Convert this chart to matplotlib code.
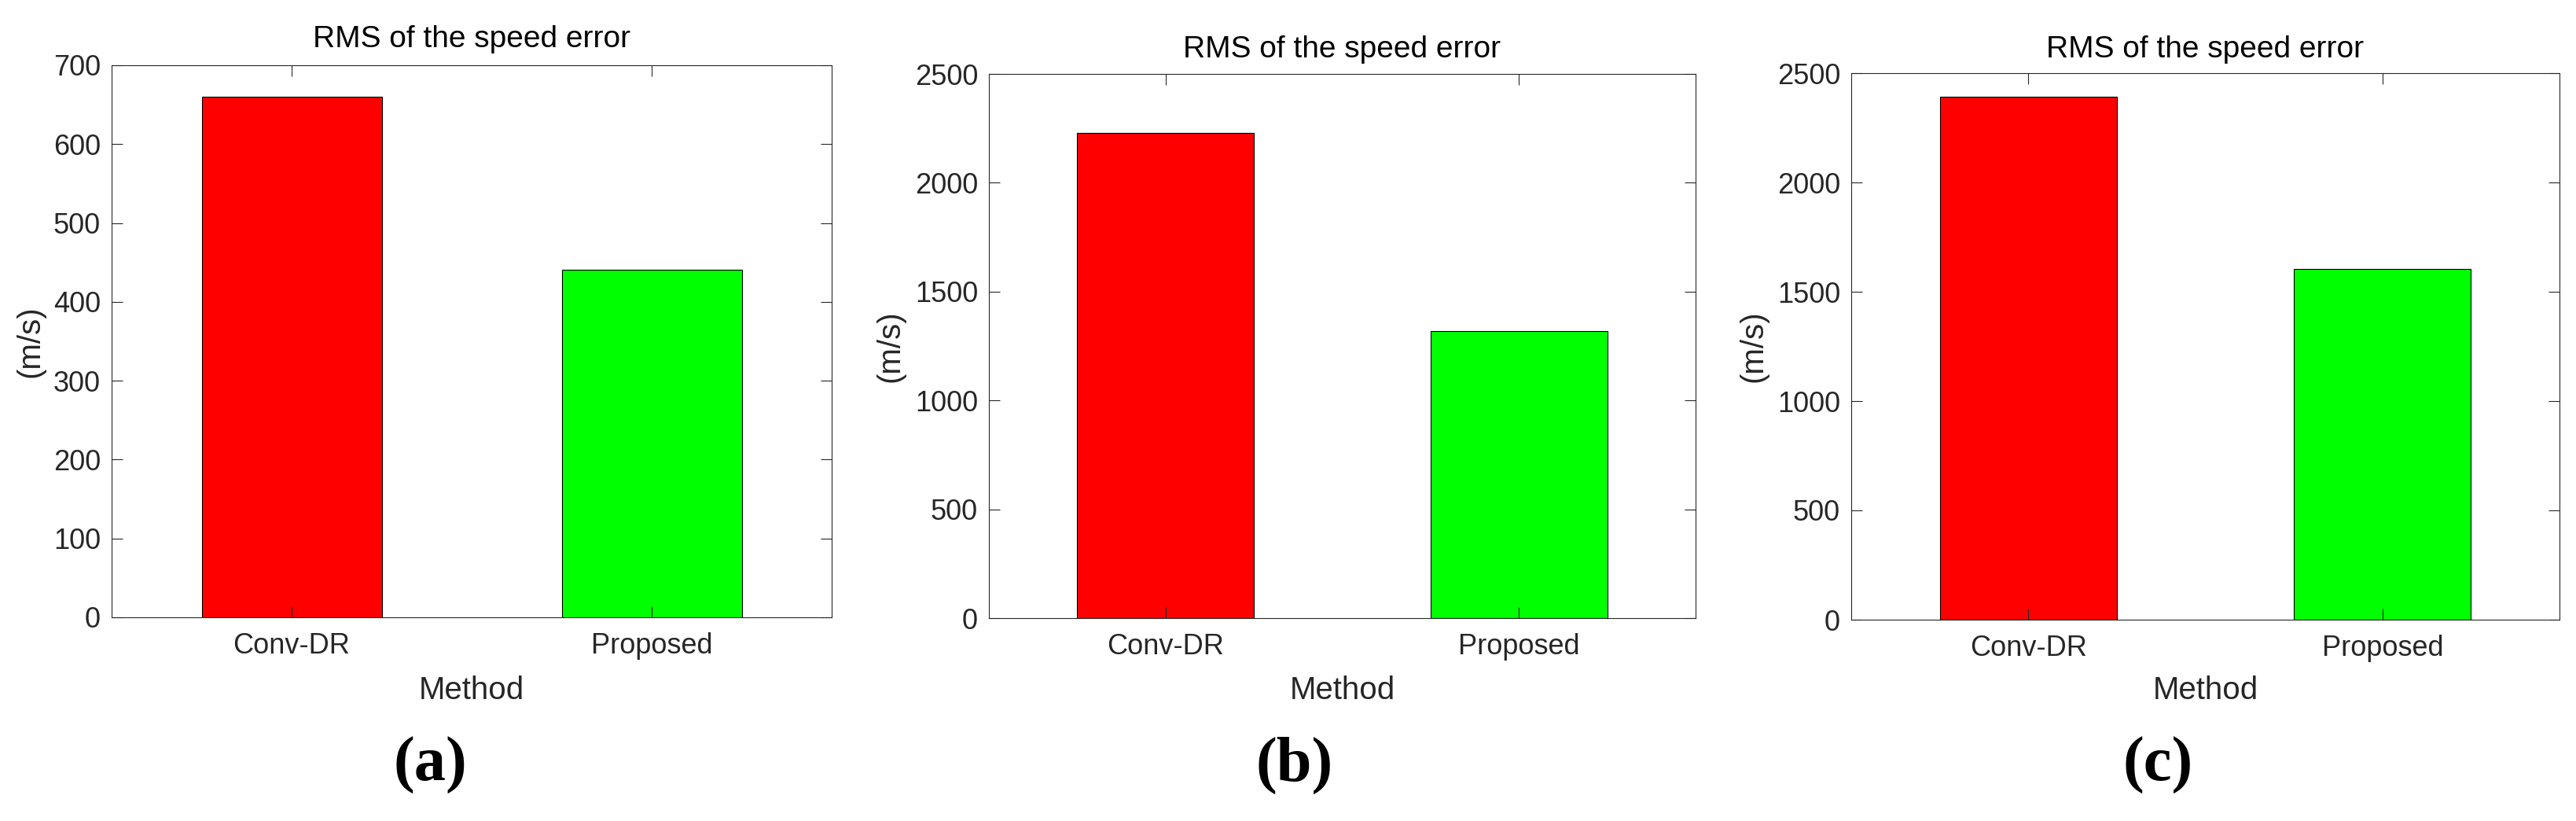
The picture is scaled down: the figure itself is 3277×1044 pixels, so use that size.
import matplotlib
matplotlib.use("Agg")
import matplotlib.pyplot as plt

plt.rcParams['font.family'] = ['Liberation Sans', 'DejaVu Sans']

methods = ["Conv-DR", "Proposed"]
values_a = [660, 441]
values_b = [2230, 1320]
values_c = [2392, 1605]
yticks_a = [0, 100, 200, 300, 400, 500, 600, 700]
yticks_bc = [0, 500, 1000, 1500, 2000, 2500]
bar_colors = ["#ff0000", "#00ff00"]
panel_labels = ["(a)", "(b)", "(c)"]
title_text = "RMS of the speed error"
xlabel_text = "Method"
ylabel_text = "(m/s)"

W, H = 3277, 1044
fig = plt.figure(figsize=(W / 100, H / 100), dpi=100)

# axes boxes in pixels: left, right, top, bottom
boxes = [(142, 1058, 83, 785), (1258, 2157, 94, 786), (2355, 3256, 93, 788)]
datas = [values_a, values_b, values_c]
ylims = [700, 2500, 2500]
ytks = [yticks_a, yticks_bc, yticks_bc]
title_y = [50, 63, 63]
ylabel_x = [39, 1132, 2230]
label_x = [547, 1647, 2745]

axcol = "#262626"
for i in range(3):
    l, r, t, b = boxes[i]
    ax = fig.add_axes([l / W, 1 - b / H, (r - l) / W, (b - t) / H])
    x = [1, 2]
    ax.bar(x, datas[i], width=0.5, color=bar_colors, edgecolor="black", linewidth=0.8)
    ax.set_xlim(0.5, 2.5)
    ax.set_ylim(0, ylims[i])
    ax.set_xticks(x)
    ax.set_xticklabels(methods)
    ax.set_yticks(ytks[i])
    ax.tick_params(direction="in", length=10, width=0.8, colors=axcol,
                   labelsize=26, top=True, right=True)
    ax.tick_params(axis="x", pad=14)
    ax.tick_params(axis="y", pad=10)
    for s in ax.spines.values():
        s.set_color(axcol)
        s.set_linewidth(0.8)
    ax.set_xlabel(xlabel_text, fontsize=29, color=axcol)
    ax.xaxis.set_label_coords(0.5, -(878 - b) / (b - t), transform=ax.transAxes)
    ax.xaxis.label.set_va("center")
    ax.set_ylabel(ylabel_text, fontsize=29, color=axcol)
    ax.yaxis.set_label_coords((ylabel_x[i] - l) / (r - l), 0.5, transform=ax.transAxes)
    ax.yaxis.label.set_va("center")
    fig.text((l + r) / 2 / W, 1 - title_y[i] / H, title_text, fontsize=28,
             ha="center", va="center", color="black")
    fig.text(label_x[i] / W, 1 - 973 / H, panel_labels[i], fontsize=58,
             fontweight="bold", family=["Liberation Serif", "DejaVu Serif"],
             ha="center", va="center", color="black")

fig.savefig("out.png", dpi=100, facecolor="white")
